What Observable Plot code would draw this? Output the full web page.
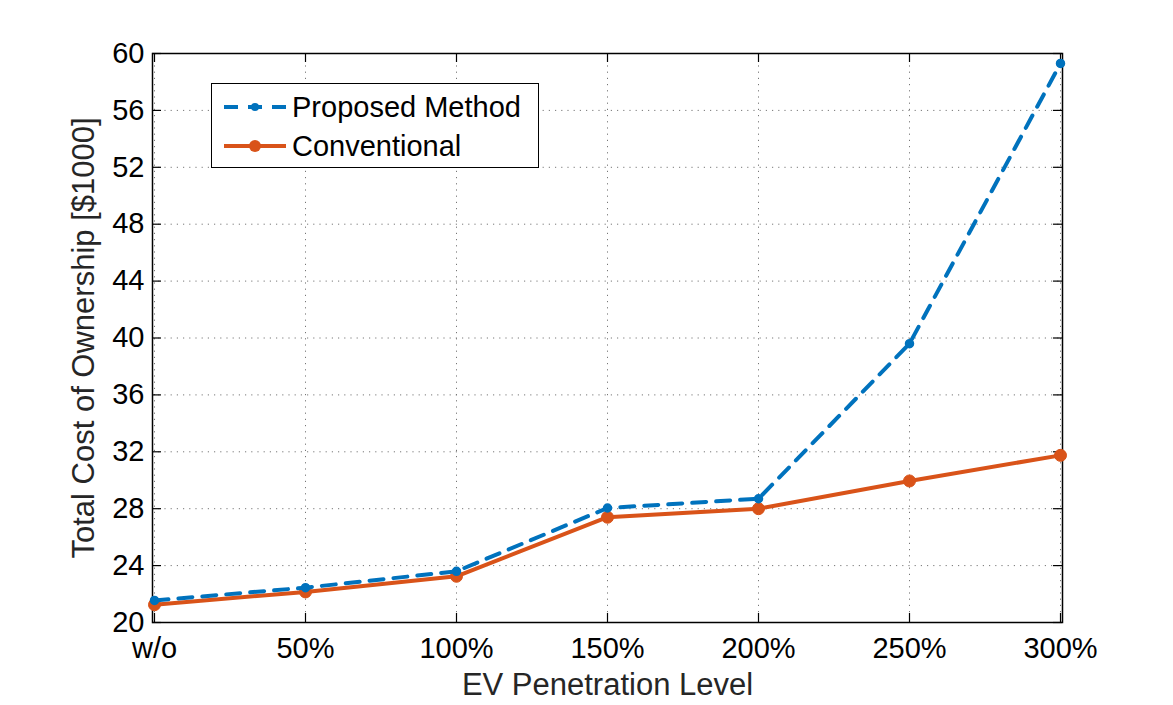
<!DOCTYPE html>
<html>
<head>
<meta charset="utf-8">
<script src="https://cdn.jsdelivr.net/npm/d3@7"></script>
<script src="https://cdn.jsdelivr.net/npm/@observablehq/plot@0.6"></script>
<style>
  html, body { margin: 0; padding: 0; background: #fff; }
  #wrap { position: relative; width: 1173px; height: 705px; font-family: "Liberation Sans", Arial, Helvetica, sans-serif; }
  #legend { position: absolute; left: 211px; top: 83px; width: 326px; height: 83px; border: 1.5px solid #000; background: #fff; box-sizing: content-box; }
  #legend .row { position: absolute; left: 0; height: 40px; display: flex; align-items: center; }
  #legend .lab { font-size: 29px; color: #000; margin-left: 4px; white-space: nowrap; }
</style>
</head>
<body>
<div id="wrap"></div>
<script>
const categories = ["w/o", "50%", "100%", "150%", "200%", "250%", "300%"];
const proposed = [21.55, 22.45, 23.6, 28.05, 28.7, 39.6, 59.3];
const conventional = [21.25, 22.15, 23.25, 27.4, 28.0, 29.95, 31.75];
const yTicks = [20, 24, 28, 32, 36, 40, 44, 48, 52, 56, 60];
const seriesNames = ["Proposed Method", "Conventional"];
const colors = ["#0072BD", "#D95319"];

const propData = categories.map((c, i) => ({cat: c, v: proposed[i]}));
const convData = categories.map((c, i) => ({cat: c, v: conventional[i]}));

const W = 1173, H = 705;
const mL = 152, mR = 111, mT = 53, mB = 83;
const pw = W - mL - mR, ph = H - mT - mB;
const tickLen = 9;
const gridStyle = {stroke: "#777", strokeOpacity: 1, strokeWidth: 1, strokeDasharray: "1.2,5"};

const chart = Plot.plot({
  width: W, height: H,
  marginLeft: mL, marginRight: mR, marginTop: mT, marginBottom: mB,
  style: {fontFamily: '"Liberation Sans", Arial, Helvetica, sans-serif', fontSize: "29px", color: "#000", background: "#fff"},
  x: {type: "point", domain: categories, padding: 0},
  y: {domain: [20, 60]},
  marks: [
    Plot.gridY(yTicks, gridStyle),
    Plot.gridX(categories, gridStyle),
    Plot.tickY(yTicks, {stroke: "#000", strokeWidth: 1.2, insetRight: pw - tickLen}),
    Plot.tickY(yTicks, {stroke: "#000", strokeWidth: 1.2, insetLeft: pw - tickLen}),
    Plot.tickX(categories, {stroke: "#000", strokeWidth: 1.2, insetTop: ph - tickLen}),
    Plot.tickX(categories, {stroke: "#000", strokeWidth: 1.2, insetBottom: ph - tickLen}),
    Plot.frame({stroke: "#000", strokeWidth: 1.5}),
    Plot.axisY({ticks: yTicks, tickSize: 0, tickPadding: 8, fontSize: 29, label: null}),
    Plot.axisY({ticks: [], tickSize: 0, fontSize: 31, fill: "#262626",
      label: "Total Cost of Ownership [$1000]", labelAnchor: "center", labelArrow: "none", labelOffset: 81}),
    Plot.axisX({tickSize: 0, tickPadding: 15, fontSize: 29, label: null}),
    Plot.axisX({ticks: [], tickSize: 0, fontSize: 31, fill: "#262626",
      label: "EV Penetration Level", labelAnchor: "center", labelArrow: "none", labelOffset: 72}),
    Plot.line(convData, {x: "cat", y: "v", stroke: colors[1], strokeWidth: 4}),
    Plot.dot(convData, {x: "cat", y: "v", r: 6, fill: colors[1], stroke: colors[1], strokeWidth: 1}),
    Plot.line(propData, {x: "cat", y: "v", stroke: colors[0], strokeWidth: 4, strokeDasharray: "14,10"}),
    Plot.dot(propData, {x: "cat", y: "v", r: 4, fill: colors[0], stroke: colors[0]})
  ]
});
chart.style.position = "absolute";
chart.style.left = "0px";
chart.style.top = "0px";
const wrap = document.getElementById("wrap");
wrap.appendChild(chart);

// Legend
const legend = document.createElement("div");
legend.id = "legend";
const rowTops = [3, 42];
seriesNames.forEach((name, i) => {
  const row = document.createElement("div");
  row.className = "row";
  row.style.top = rowTops[i] + "px";
  const ns = "http://www.w3.org/2000/svg";
  const s = document.createElementNS(ns, "svg");
  s.setAttribute("width", 76); s.setAttribute("height", 40);
  const ln = document.createElementNS(ns, "line");
  ln.setAttribute("x1", 12); ln.setAttribute("x2", 74); ln.setAttribute("y1", 20); ln.setAttribute("y2", 20);
  ln.setAttribute("stroke", colors[i]); ln.setAttribute("stroke-width", 4);
  if (i === 0) ln.setAttribute("stroke-dasharray", "14,10");
  s.appendChild(ln);
  const c = document.createElementNS(ns, "circle");
  c.setAttribute("cx", 43); c.setAttribute("cy", 20); c.setAttribute("r", i === 0 ? 4 : 6);
  c.setAttribute("fill", colors[i]);
  s.appendChild(c);
  row.appendChild(s);
  const t = document.createElement("span");
  t.className = "lab";
  t.textContent = name;
  row.appendChild(t);
  legend.appendChild(row);
});
wrap.appendChild(legend);
</script>
</body>
</html>
